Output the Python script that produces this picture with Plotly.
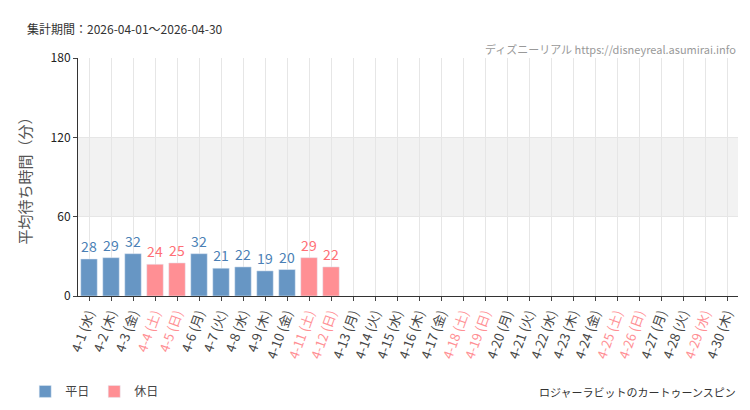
import plotly.graph_objects as go

days = list(range(1, 31))
weekdays = ["水", "木", "金", "土", "日", "月", "火"]
holidays = [4, 5, 11, 12, 18, 19, 25, 26, 29]
values = [28, 29, 32, 24, 25, 32, 21, 22, 19, 20, 29, 22] + [None] * 18

BLUE = "#6796c4"
PINK = "#ff8f94"

cats = ["4-%d" % d for d in days]
ticktext = []
for i, d in enumerate(days):
    lab = "4-%d (%s)" % (d, weekdays[i % 7])
    if d in holidays:
        lab = "<span style='color:%s'>%s</span>" % (PINK, lab)
    ticktext.append(lab)

wd_y = [v if d not in holidays else None for d, v in zip(days, values)]
hd_y = [v if d in holidays else None for d, v in zip(days, values)]

fig = go.Figure()
fig.add_trace(go.Bar(x=cats, y=wd_y, name="平日", marker_color=BLUE,
                     text=wd_y, textposition="outside", textfont=dict(color="#4a7fb5", size=14),
                     cliponaxis=False))
fig.add_trace(go.Bar(x=cats, y=hd_y, name="休日", marker_color=PINK,
                     text=hd_y, textposition="outside", textfont=dict(color="#ff6f76", size=14),
                     cliponaxis=False))

fig.add_hrect(y0=60, y1=120, fillcolor="#f2f2f2", line_width=0, layer="below")

fig.update_layout(
    width=750, height=410,
    barmode="overlay", bargap=0.25,
    plot_bgcolor="white", paper_bgcolor="white",
    font=dict(family="Noto Sans CJK JP", color="#444", size=12),
    margin=dict(l=70, r=20, t=50, b=105),
    legend=dict(orientation="h", x=-0.08, y=-0.34, xanchor="left", yanchor="top",
                font=dict(size=12)),
    xaxis=dict(tickvals=cats, ticktext=ticktext, tickangle=-70, showgrid=True,
               gridcolor="#e6e6e6", ticks="outside", ticklen=4, linecolor="#333",
               showline=True, tickfont=dict(size=13)),
    yaxis=dict(range=[0, 180], tickvals=[0, 60, 120, 180], showgrid=True,
               gridcolor="#e6e6e6", ticks="outside", ticklen=4, showline=True,
               linecolor="#333", zeroline=False,
               title=dict(text="平均待ち時間（分）", font=dict(size=15, color="#555")),
               tickfont=dict(size=12, color="#222")),
    annotations=[
        dict(text="集計期間：2026-04-01～2026-04-30", xref="paper", yref="paper",
             x=-0.08, y=1.17, xanchor="left", showarrow=False, font=dict(size=12, color="#333")),
        dict(text="ディズニーリアル https://disneyreal.asumirai.info", xref="paper", yref="paper",
             x=1.0, y=1.08, xanchor="right", showarrow=False, font=dict(size=11, color="#999")),
        dict(text="ロジャーラビットのカートゥーンスピン", xref="paper", yref="paper",
             x=1.0, y=-0.36, xanchor="right", yanchor="top", showarrow=False,
             font=dict(size=11, color="#333")),
    ],
)

fig.write_html("out.html")
